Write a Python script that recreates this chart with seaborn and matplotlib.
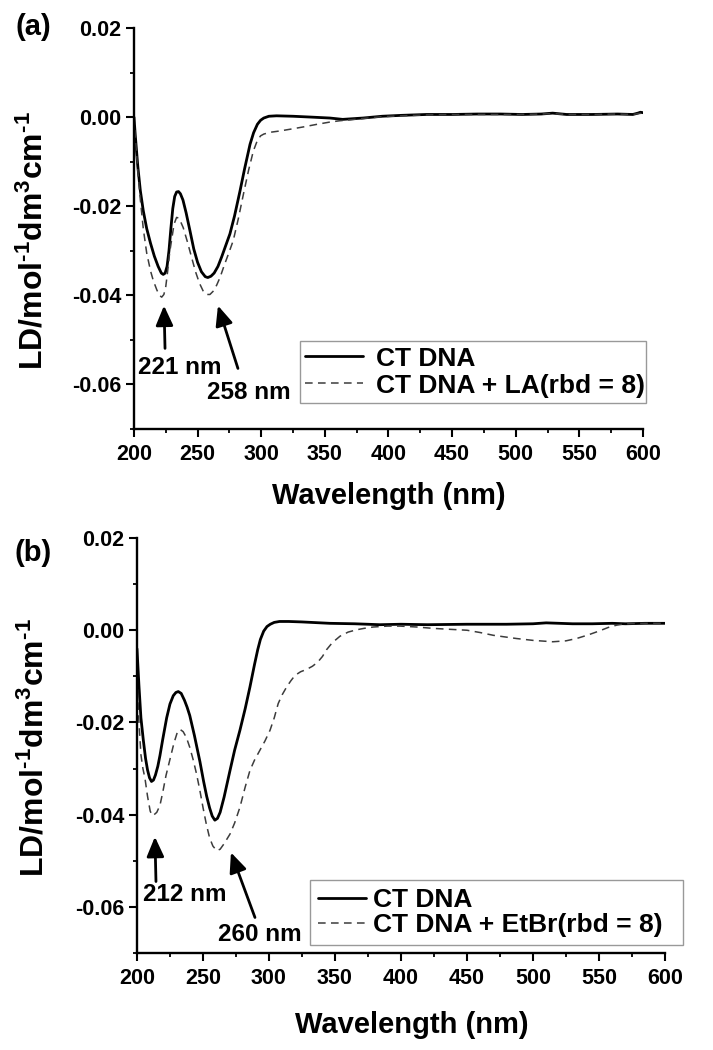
import numpy as np
import pandas as pd
import matplotlib
matplotlib.use('Agg')
import matplotlib.pyplot as plt
from matplotlib.ticker import MultipleLocator, FuncFormatter
import seaborn as sns

# panel (a): CT DNA and CT DNA + LA
wl_a_ct = [200, 201, 203, 205, 207.3, 210, 213, 216, 219, 221.5, 223, 224.5, 226, 227.5,
           229, 230.5, 232, 233.5, 235, 236.5, 238.5, 241, 244, 247, 250, 253, 256, 258,
           260.5, 263, 266, 269, 272, 275.4, 279, 283.3, 287, 291.2, 294, 297, 299.5, 302,
           306, 312, 325, 340, 354, 364, 380, 395, 410, 430, 450, 470, 488, 505, 520, 529,
           540, 560, 580, 592, 596, 598, 600]
ld_a_ct = [0.0000, -0.0040, -0.0110, -0.0165, -0.0210, -0.0250, -0.0283, -0.0312, -0.0335,
           -0.0350, -0.0353, -0.0350, -0.0335, -0.0300, -0.0250, -0.0205, -0.0178, -0.0168,
           -0.0167, -0.0172, -0.0186, -0.0215, -0.0255, -0.0296, -0.0326, -0.0347, -0.0358,
           -0.0360, -0.0357, -0.0350, -0.0335, -0.0313, -0.0289, -0.0262, -0.0222, -0.0166,
           -0.0115, -0.0061, -0.0035, -0.0016, -0.0007, -0.0002, 0.0002, 0.0003, 0.0002,
           0.0000, -0.0002, -0.0005, -0.0002, 0.0002, 0.0004, 0.0006, 0.0006, 0.0007, 0.0007,
           0.0006, 0.0007, 0.0009, 0.0006, 0.0006, 0.0007, 0.0006, 0.0009, 0.0011, 0.0010]

wl_a_la = [200, 201, 203, 205, 207.3, 210, 213, 215.2, 218, 220, 221.8, 223.5, 225, 226.5,
           228, 229.6, 231.5, 233.5, 235.5, 238.7, 242, 245.3, 248.5, 251.5, 254.5, 257,
           259.7, 262.5, 265, 267.6, 271, 274.5, 278, 282, 286, 290, 293.8, 297, 299.5, 302,
           307, 314.7, 323, 333, 344, 354, 362, 370, 380, 395, 410, 430, 450, 470, 488, 505,
           520, 529, 540, 560, 580, 592, 596, 600]
ld_a_la = [0.0000, -0.0042, -0.0120, -0.0185, -0.0250, -0.0305, -0.0345, -0.0367, -0.0388,
           -0.0400, -0.0404, -0.0398, -0.0380, -0.0345, -0.0305, -0.0275, -0.0240, -0.0225,
           -0.0227, -0.0248, -0.0280, -0.0315, -0.0348, -0.0373, -0.0391, -0.0398, -0.0398,
           -0.0390, -0.0377, -0.0360, -0.0332, -0.0305, -0.0277, -0.0228, -0.0173, -0.0120,
           -0.0076, -0.0052, -0.0042, -0.0038, -0.0034, -0.0031, -0.0027, -0.0022, -0.0016,
           -0.0011, -0.0008, -0.0006, -0.0003, 0.0001, 0.0003, 0.0005, 0.0006, 0.0006, 0.0006,
           0.0006, 0.0007, 0.0008, 0.0006, 0.0006, 0.0007, 0.0006, 0.0008, 0.0009]

# panel (b): CT DNA and CT DNA + EtBr
wl_b_ct = [200, 201.5, 203, 204.8, 206.5, 208, 209.5, 211, 212.5, 214, 215.8, 217.4, 219.5,
           222.5, 225, 227.5, 229.5, 231.3, 233.5, 236, 238, 240, 243.5, 247.7, 250.5, 252.8,
           255, 257, 259, 261, 263, 266, 270.5, 274, 278, 282, 285.6, 289, 291.5, 293.5, 296,
           298.5, 301, 304, 308, 315, 325, 346, 365, 384, 400, 420, 450, 480, 500, 510, 520,
           530, 545, 560, 570, 585, 600]
ld_b_ct = [-0.0040, -0.0120, -0.0190, -0.0238, -0.0278, -0.0303, -0.0320, -0.0328, -0.0325,
           -0.0314, -0.0295, -0.0272, -0.0237, -0.0190, -0.0160, -0.0142, -0.0135, -0.0133,
           -0.0137, -0.0152, -0.0167, -0.0185, -0.0228, -0.0285, -0.0328, -0.0360, -0.0385,
           -0.0403, -0.0412, -0.0408, -0.0395, -0.0362, -0.0304, -0.0260, -0.0217, -0.0170,
           -0.0123, -0.0075, -0.0042, -0.0020, -0.0002, 0.0008, 0.0013, 0.0017, 0.0019, 0.0019,
           0.0018, 0.0015, 0.0014, 0.0012, 0.0013, 0.0012, 0.0013, 0.0013, 0.0014, 0.0016,
           0.0015, 0.0014, 0.0014, 0.0015, 0.0014, 0.0015, 0.0015]

wl_b_etbr = [200, 201.5, 203, 204.5, 206, 208, 210, 211.5, 213, 215, 217.4, 219.5, 222, 225,
             228, 230.5, 232.6, 235, 237.5, 240, 242.5, 245, 247.5, 250, 252.5, 255, 257.5,
             260.4, 263, 266, 270.5, 274, 278, 282, 285.6, 289, 293, 297, 300.8, 304, 307, 310,
             313.4, 316.5, 319.7, 324, 328.5, 333, 337, 340.5, 343.7, 348, 353.8, 360, 366.4,
             372, 379, 390, 399, 412, 424.5, 437, 450, 460, 470, 480, 487.6, 500, 515, 525,
             533, 542, 550.8, 557, 563.4, 570, 585, 600]
ld_b_etbr = [-0.0100, -0.0200, -0.0270, -0.0300, -0.0320, -0.0360, -0.0392, -0.0402, -0.0400,
             -0.0395, -0.0380, -0.0352, -0.0315, -0.0280, -0.0245, -0.0222, -0.0215, -0.0220,
             -0.0233, -0.0254, -0.0280, -0.0310, -0.0345, -0.0384, -0.0420, -0.0450, -0.0468,
             -0.0478, -0.0475, -0.0463, -0.0442, -0.0418, -0.0384, -0.0340, -0.0304, -0.0282,
             -0.0261, -0.0240, -0.0217, -0.0190, -0.0159, -0.0140, -0.0123, -0.0110, -0.0098,
             -0.0090, -0.0085, -0.0078, -0.0069, -0.0057, -0.0042, -0.0027, -0.0013, -0.0004,
             0.0001, 0.0004, 0.0007, 0.0009, 0.0009, 0.0007, 0.0004, 0.0002, 0.0000, -0.0005,
             -0.0011, -0.0015, -0.0018, -0.0022, -0.0025, -0.0023, -0.0018, -0.0010, -0.0001,
             0.0006, 0.0011, 0.0014, 0.0015, 0.0015]

# peak labels: text, text position, arrow tail, arrow head
notes_a = [('221 nm', (236, -0.0562), (224.4, -0.0519), (223.6, -0.0423)),
           ('258 nm', (290.4, -0.0617), (281.7, -0.0564), (266, -0.0423))]
notes_b = [('212 nm', (236.4, -0.0574), (214.4, -0.0545), (213.6, -0.0448)),
           ('260 nm', (293.2, -0.0660), (289.4, -0.0623), (271.2, -0.0482))]

sns.set_theme(style='ticks')
plt.rcParams['font.family'] = ['Liberation Sans', 'DejaVu Sans']
plt.rcParams['font.weight'] = 'bold'
plt.rcParams['axes.labelweight'] = 'bold'
plt.rcParams['axes.unicode_minus'] = False
plt.rcParams['text.color'] = 'black'
plt.rcParams['axes.labelcolor'] = 'black'
plt.rcParams['xtick.color'] = 'black'
plt.rcParams['ytick.color'] = 'black'
plt.rcParams['mathtext.fontset'] = 'custom'
plt.rcParams['mathtext.rm'] = 'Liberation Sans:bold'
plt.rcParams['mathtext.it'] = 'Liberation Sans:bold'
plt.rcParams['mathtext.bf'] = 'Liberation Sans:bold'
plt.rcParams['mathtext.default'] = 'rm'

fig = plt.figure(figsize=(7.13, 10.5), dpi=100)
ax_a = fig.add_axes([0.1879, 0.5914, 0.7139, 0.3819])
ax_b = fig.add_axes([0.1921, 0.0924, 0.7405, 0.3952])

dash = (0, (5, 3.5))
ylab = 'LD/mol$^{\u2010 1}$dm$^{3}$cm$^{\u2010 1}$'.replace(' ', '')

panels = [
    (ax_a, wl_a_ct, ld_a_ct, wl_a_la, ld_a_la, 'CT DNA + LA(rbd = 8)', notes_a, '(a)', 0.974),
    (ax_b, wl_b_ct, ld_b_ct, wl_b_etbr, ld_b_etbr, 'CT DNA + EtBr(rbd = 8)', notes_b, '(b)', 0.473),
]

for ax, x1, y1, x2, y2, lab2, notes, tag, ty in panels:
    sns.lineplot(x=x1, y=y1, ax=ax, color='black', linewidth=2.0, label='CT DNA',
                 sort=False, estimator=None)
    sns.lineplot(x=x2, y=y2, ax=ax, color='#3c3c3c', linewidth=1.1, linestyle=dash,
                 label=lab2, sort=False, estimator=None)
    ax.set_xlim(200, 600)
    ax.set_ylim(-0.07, 0.02)
    ax.xaxis.set_major_locator(MultipleLocator(50))
    ax.xaxis.set_minor_locator(MultipleLocator(25))
    ax.yaxis.set_major_locator(MultipleLocator(0.02))
    ax.yaxis.set_minor_locator(MultipleLocator(0.01))
    ax.yaxis.set_major_formatter(FuncFormatter(lambda v, p: f'{v:.2f}'.replace('-0.00', '0.00')))
    ax.tick_params(which='major', length=6, width=1.5, labelsize=15.5, pad=3,
                   color='black', labelcolor='black')
    ax.tick_params(which='minor', length=3, width=1.3, color='black')
    ax.tick_params(axis='x', which='major', pad=5)
    sns.despine(ax=ax)
    for s in ['left', 'bottom']:
        ax.spines[s].set_linewidth(1.7)
        ax.spines[s].set_color('black')
    ax.set_xlabel('Wavelength (nm)', fontsize=21, fontweight='bold', color='black')
    ax.set_ylabel(ylab, fontsize=23, fontweight='bold', color='black')
    for txt, tpos, tail, head in notes:
        ax.annotate('', xy=head, xytext=tail,
                    arrowprops=dict(arrowstyle='-|>,head_length=0.8,head_width=0.35',
                                    color='black', lw=2, mutation_scale=15,
                                    shrinkA=0, shrinkB=0))
        ax.text(tpos[0], tpos[1], txt, ha='center', va='center', fontsize=17.5,
                fontweight='bold', color='black')
    fig.text(0.047, ty, tag, ha='center', va='center', fontsize=21, fontweight='bold',
             color='black')

ax_a.xaxis.set_label_coords(0.5, -0.132)
ax_b.xaxis.set_label_coords(0.52, -0.14)
ax_a.yaxis.set_label_coords(-0.165, 0.469)
ax_b.yaxis.set_label_coords(-0.163, 0.494)

leg_a = ax_a.legend(loc='lower left', bbox_to_anchor=(0.326, 0.065, 0.680, 0.16), mode='expand',
                    borderaxespad=0, borderpad=0.2, labelspacing=0.12, handlelength=2.2,
                    handletextpad=0.5, fancybox=False, framealpha=1, edgecolor='#999999',
                    prop={'weight': 'bold', 'size': 19})
leg_b = ax_b.legend(loc='lower left', bbox_to_anchor=(0.328, 0.019, 0.706, 0.17), mode='expand',
                    borderaxespad=0, borderpad=0.3, labelspacing=0.05, handlelength=1.8,
                    handletextpad=0.3, fancybox=False, framealpha=1, edgecolor='#999999',
                    prop={'weight': 'bold', 'size': 19})
for leg in (leg_a, leg_b):
    leg.get_frame().set_linewidth(1.0)
    leg.set_clip_on(False)
    for t in leg.get_texts():
        t.set_color('black')

fig.savefig('out.png', dpi=100, facecolor='white')
